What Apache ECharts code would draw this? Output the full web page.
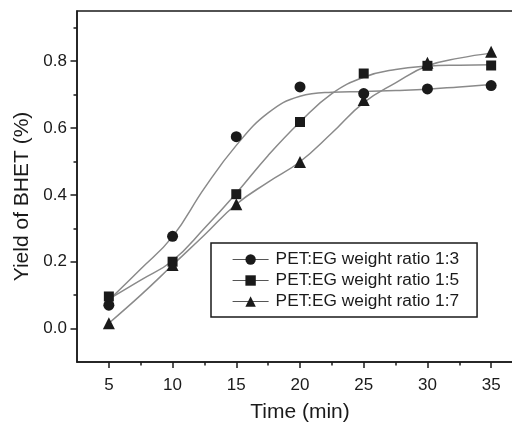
<!DOCTYPE html>
<html>
<head>
<meta charset="utf-8">
<script src="https://cdn.jsdelivr.net/npm/echarts@6/dist/echarts.min.js"></script>
<style>
html,body{margin:0;padding:0;background:#fff;}
#chart{width:512px;height:425px;}
</style>
</head>
<body>
<div id="chart"></div>
<script>
// ---- data ----
const times = [5, 10, 15, 20, 25, 30, 35];
const seriesNames = ['PET:EG weight ratio 1:3', 'PET:EG weight ratio 1:5', 'PET:EG weight ratio 1:7'];
const yield13 = [0.070, 0.276, 0.574, 0.723, 0.703, 0.717, 0.727];
const yield15 = [0.096, 0.200, 0.402, 0.618, 0.763, 0.786, 0.787];
const yield17 = [0.016, 0.190, 0.372, 0.498, 0.684, 0.795, 0.828];

// fitted curves
const curveTimes = [5, 7.5, 10, 12.5, 15, 17.5, 20, 22.5, 25, 27.5, 30, 32.5, 35];
const curve13 = [0.085, 0.178, 0.275, 0.420, 0.548, 0.645, 0.695, 0.707, 0.709, 0.712, 0.716, 0.723, 0.730];
const curve15 = [0.088, 0.145, 0.203, 0.300, 0.405, 0.518, 0.618, 0.703, 0.752, 0.775, 0.785, 0.788, 0.789];
const curve17 = [0.016, 0.100, 0.190, 0.280, 0.372, 0.438, 0.499, 0.585, 0.676, 0.735, 0.786, 0.809, 0.824];

// tick labels
const xMajorTicks = [5, 10, 15, 20, 25, 30, 35];
const xMinorTicks = [7.5, 12.5, 17.5, 22.5, 27.5, 32.5];
const yMajorTicks = [0.0, 0.2, 0.4, 0.6, 0.8];
const yMinorTicks = [0.1, 0.3, 0.5, 0.7, 0.9];

const FONT = '"Liberation Sans", Arial, Helvetica, sans-serif';
const DARK = '#1a1a1a';
const CURVE = '#8a8a8a';

function pairs(xs, ys) { return xs.map((x, i) => [x, ys[i]]); }

const chart = echarts.init(document.getElementById('chart'), null, {renderer: 'canvas'});

const symbols = ['circle', 'rect', 'triangle'];
const symbolSizes = [11, 10, 12];
const pointSets = [yield13, yield15, yield17];
const curveSets = [curve13, curve15, curve17];

const series = [];
curveSets.forEach((c, i) => {
  series.push({
    name: 'curve' + i,
    type: 'line',
    xAxisIndex: 0, yAxisIndex: 0,
    data: pairs(curveTimes, c),
    smooth: 0.45,
    showSymbol: false,
    symbol: 'none',
    lineStyle: {color: CURVE, width: 1.5},
    silent: true,
    z: 2,
    animation: false
  });
});
pointSets.forEach((p, i) => {
  series.push({
    name: seriesNames[i],
    type: 'line',
    xAxisIndex: 0, yAxisIndex: 0,
    data: pairs(times, p),
    symbol: symbols[i],
    symbolSize: symbolSizes[i],
    showSymbol: true,
    itemStyle: {color: DARK, borderWidth: 0},
    lineStyle: {color: CURVE, width: 1.2, opacity: 0},
    z: 3,
    animation: false
  });
});

const option = {
  backgroundColor: '#fff',
  animation: false,
  textStyle: {fontFamily: FONT},
  grid: {
    left: 77, top: 11, width: 446, bottom: 63,
    outerBoundsMode: 'none',
    containLabel: false,
    show: true, borderColor: DARK, borderWidth: 1.5, backgroundColor: 'transparent'
  },
  legend: {
    orient: 'vertical',
    left: 211, top: 243,
    padding: [8, 18, 7, 21],
    itemWidth: 36, itemHeight: 13, itemGap: 4,
    borderColor: DARK, borderWidth: 1.5,
    backgroundColor: '#fff',
    textStyle: {fontSize: 17.3, color: DARK, fontFamily: FONT, padding: [0, 0, 0, 2]},
    lineStyle: {color: '#555', width: 1.2, opacity: 1},
    data: seriesNames.map(n => ({name: n})),
    selectedMode: false
  },
  xAxis: [{
    type: 'value', position: 'bottom',
    min: 2.5, max: 37.5,
    name: 'Time (min)', nameLocation: 'middle', nameGap: 40,
    nameTextStyle: {fontSize: 21, color: DARK, fontFamily: FONT},
    axisLine: {show: true, onZero: false, lineStyle: {color: DARK, width: 1.5}},
    axisTick: {show: true, customValues: xMajorTicks, length: 6, inside: false, lineStyle: {color: DARK, width: 1.5}},
    axisLabel: {customValues: xMajorTicks, fontSize: 17, color: DARK, margin: 15, fontFamily: FONT},
    splitLine: {show: false}
  }, {
    type: 'value', position: 'bottom',
    min: 2.5, max: 37.5,
    axisLine: {show: false, onZero: false},
    axisTick: {show: true, customValues: xMinorTicks, length: 3.5, inside: false, lineStyle: {color: DARK, width: 1.5}},
    axisLabel: {show: false},
    splitLine: {show: false}
  }],
  yAxis: [{
    type: 'value', position: 'left',
    min: -0.1, max: 0.95,
    name: 'Yield of BHET (%)', nameLocation: 'middle', nameGap: 35, nameRotate: 90,
    nameTextStyle: {fontSize: 21, color: DARK, fontFamily: FONT, padding: [0, 20, 0, 0]},
    axisLine: {show: true, onZero: false, lineStyle: {color: DARK, width: 1.5}},
    axisTick: {show: true, customValues: yMajorTicks, length: 6.5, inside: false, lineStyle: {color: DARK, width: 1.5}},
    axisLabel: {customValues: yMajorTicks, fontSize: 17, color: DARK, margin: 10, fontFamily: FONT,
                formatter: v => Number(v).toFixed(1)},
    splitLine: {show: false}
  }, {
    type: 'value', position: 'left',
    min: -0.1, max: 0.95,
    axisLine: {show: false, onZero: false},
    axisTick: {show: true, customValues: yMinorTicks, length: 3.5, inside: false, lineStyle: {color: DARK, width: 1.5}},
    axisLabel: {show: false},
    splitLine: {show: false}
  }],
  series: series
};
chart.setOption(option);
</script>
</body>
</html>
